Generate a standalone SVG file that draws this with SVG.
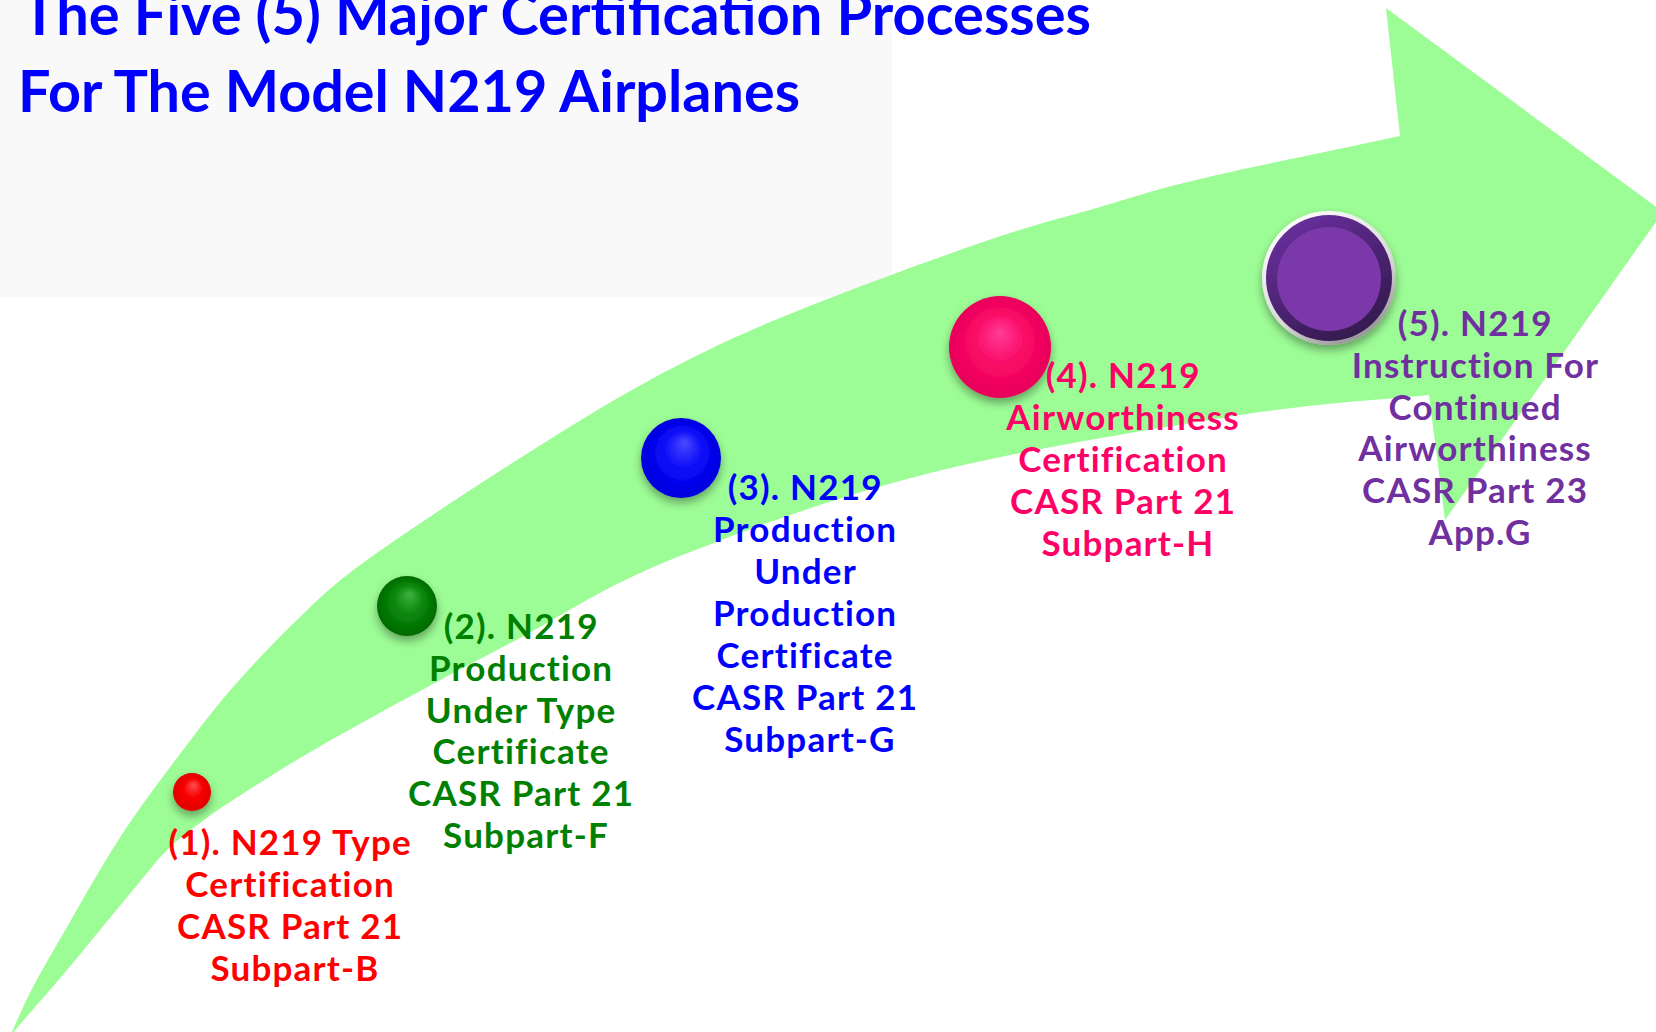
<svg xmlns="http://www.w3.org/2000/svg" width="1656" height="1032" viewBox="0 0 1656 1032">
  <style>
    .t { font-family: Lato, "Open Sans", "Liberation Sans", sans-serif; font-weight: bold; font-size: 35px; letter-spacing: 1.2px; text-anchor: middle; }
    .title { font-family: Lato, "Open Sans", "Liberation Sans", sans-serif; font-weight: bold; font-size: 58px; fill: #0000ff; }
    .c1 { fill: #ff0000; }
    .c2 { fill: #008000; }
    .c3 { fill: #0000ff; }
    .c4 { fill: #ff0066; }
    .c5 { fill: #7030a0; }
    .ball { filter: url(#shadow); }
  </style>
  <defs>
    <filter id="shadow" x="-30%" y="-30%" width="160%" height="170%">
      <feDropShadow dx="0" dy="5" stdDeviation="4" flood-color="#000" flood-opacity="0.35"/>
    </filter>
    <radialGradient id="gRed" cx="0.5" cy="0.5" r="0.5" fx="0.55" fy="0.3">
      <stop offset="0" stop-color="#ff5050"/>
      <stop offset="0.5" stop-color="#f80000"/>
      <stop offset="1" stop-color="#e00000"/>
    </radialGradient>
    <radialGradient id="gGreen" cx="0.5" cy="0.5" r="0.5" fx="0.55" fy="0.3">
      <stop offset="0" stop-color="#40b040"/>
      <stop offset="0.5" stop-color="#0a860a"/>
      <stop offset="1" stop-color="#006a00"/>
    </radialGradient>
    <radialGradient id="gBlue" cx="0.5" cy="0.5" r="0.5" fx="0.55" fy="0.3">
      <stop offset="0" stop-color="#4a4aff"/>
      <stop offset="0.5" stop-color="#0a0af8"/>
      <stop offset="1" stop-color="#0000dd"/>
    </radialGradient>
    <radialGradient id="gPink" cx="0.5" cy="0.5" r="0.5" fx="0.5" fy="0.35">
      <stop offset="0" stop-color="#ff3d97"/>
      <stop offset="0.5" stop-color="#fa0a66"/>
      <stop offset="1" stop-color="#e8005a"/>
    </radialGradient>
    <linearGradient id="gBevel" x1="0.2" y1="0" x2="0.8" y2="1">
      <stop offset="0" stop-color="#ffffff"/>
      <stop offset="0.6" stop-color="#d8d8d8"/>
      <stop offset="1" stop-color="#8a8a8a"/>
    </linearGradient>
    <linearGradient id="gRing" x1="0.2" y1="0" x2="0.8" y2="1">
      <stop offset="0" stop-color="#6a30a0"/>
      <stop offset="1" stop-color="#301848"/>
    </linearGradient>
  </defs>

  <rect x="0" y="0" width="1656" height="1032" fill="#ffffff"/>
  <rect x="0" y="0" width="892" height="297" fill="#f9f9f9"/>

  <g id="arrow">
    <path fill="#9cfc95" d="M 10 1036
      C 17.7 1019.7 23.5 1005.2 33 987
      C 42.5 968.8 55.8 946.5 67 927
      C 78.2 907.5 89 888.2 100 870
      C 111 851.8 119.2 838 133 818
      C 146.8 798 166.3 771.8 183 750
      C 199.7 728.2 213.5 709.2 233 687
      C 252.5 664.8 277.7 638.2 300 617
      C 322.3 595.8 330.8 586.2 367 560
      C 403.2 533.8 469.8 490 517 460
      C 564.2 430 606.2 403.7 650 380
      C 693.8 356.3 725 340.8 780 318
      C 835 295.2 926.7 261.5 980 243
      C 1033.3 224.5 1063.3 217.7 1100 207
      C 1136.7 196.3 1150 190.8 1200 179
      C 1250 167.2 1333.3 150.3 1400 136
      L 1386 8 L 1663 212 L 1445 520 L 1429 395
      C 1372.7 400.7 1343.2 401 1260 412
      C 1176.8 425 1028.3 448.3 930 473
      C 831.7 497.7 738.3 532.5 670 560
      C 601.7 587.5 559.5 617.3 520 638
      C 480.5 658.7 458.5 670.3 433 684
      C 407.5 697.7 389.2 707.7 367 720
      C 344.8 732.3 322.3 744.7 300 758
      C 277.7 771.3 249.7 789.2 233 800
      C 216.3 810.8 211 814.7 200 823
      C 189 831.3 178.2 838.8 167 850
      C 155.8 861.2 144.2 876.7 133 890
      C 121.8 903.3 111 916.7 100 930
      C 89 943.3 82 952.3 67 970
      C 52 987.7 29 1014 10 1036 Z"/>
  </g>

  <g id="title">
    <text class="title" x="22" y="35" textLength="1069" lengthAdjust="spacingAndGlyphs">The Five (5) Major Certification Processes</text>
    <text class="title" x="18" y="112" textLength="782" lengthAdjust="spacingAndGlyphs">For The Model N219 Airplanes</text>
  </g>

  <g id="node-1">
    <circle class="ball" cx="192" cy="792" r="19" fill="url(#gRed)"/>
    <text class="t c1" x="295">
      <tspan x="295" y="855">(1). N219 Type</tspan>
      <tspan x="295" y="897">Certification</tspan>
      <tspan x="295" y="939">CASR Part 21</tspan>
      <tspan x="295" y="981">Subpart-B</tspan>
    </text>
  </g>

  <g id="node-2">
    <circle class="ball" cx="407" cy="606" r="30" fill="url(#gGreen)"/>
    <text class="t c2" x="526">
      <tspan x="526" y="639">(2). N219</tspan>
      <tspan x="526" y="681">Production</tspan>
      <tspan x="526" y="723">Under Type</tspan>
      <tspan x="526" y="764">Certificate</tspan>
      <tspan x="526" y="806">CASR Part 21</tspan>
      <tspan x="526" y="848">Subpart-F</tspan>
    </text>
  </g>

  <g id="node-3">
    <circle class="ball" cx="681" cy="458" r="40" fill="url(#gBlue)"/>
    <text class="t c3" x="810">
      <tspan x="810" y="500">(3). N219</tspan>
      <tspan x="810" y="542">Production</tspan>
      <tspan x="810" y="584">Under</tspan>
      <tspan x="810" y="626">Production</tspan>
      <tspan x="810" y="668">Certificate</tspan>
      <tspan x="810" y="710">CASR Part 21</tspan>
      <tspan x="810" y="752">Subpart-G</tspan>
    </text>
  </g>

  <g id="node-4">
    <circle class="ball" cx="1000" cy="347" r="51" fill="url(#gPink)"/>
    <text class="t c4" x="1128">
      <tspan x="1128" y="388">(4). N219</tspan>
      <tspan x="1128" y="430">Airworthiness</tspan>
      <tspan x="1128" y="472">Certification</tspan>
      <tspan x="1128" y="514">CASR Part 21</tspan>
      <tspan x="1128" y="556">Subpart-H</tspan>
    </text>
  </g>

  <g id="node-5">
    <g class="ball">
      <circle cx="1329" cy="278" r="67" fill="url(#gBevel)"/>
      <circle cx="1329" cy="278" r="63" fill="url(#gRing)"/>
      <circle cx="1329" cy="279" r="52" fill="#7a38a8"/>
    </g>
    <text class="t c5" x="1480">
      <tspan x="1480" y="336">(5). N219</tspan>
      <tspan x="1480" y="378">Instruction For</tspan>
      <tspan x="1480" y="420">Continued</tspan>
      <tspan x="1480" y="461">Airworthiness</tspan>
      <tspan x="1480" y="503">CASR Part 23</tspan>
      <tspan x="1480" y="545">App.G</tspan>
    </text>
  </g>
</svg>
